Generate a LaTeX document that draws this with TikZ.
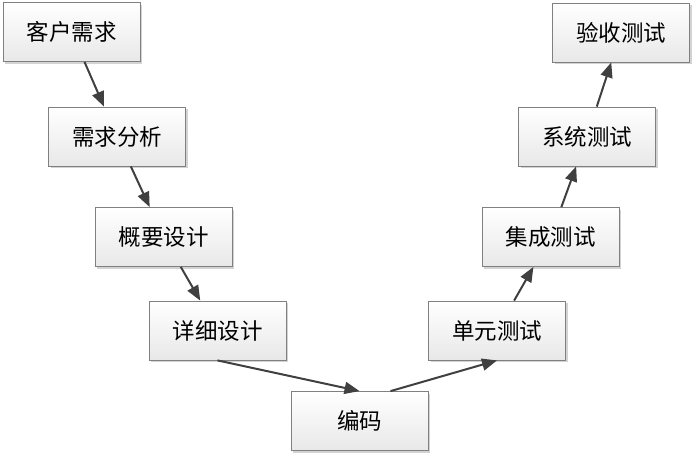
\documentclass[tikz,border=0pt]{standalone}
\usepackage{fontspec}
\newfontfamily\cjk{Noto Sans CJK SC}
\usetikzlibrary{arrows.meta,shadows}
\definecolor{arrowgray}{HTML}{404040}
\definecolor{boxline}{HTML}{808080}

\begin{document}
\begin{tikzpicture}[x=1pt, y=-1pt,
    stage/.style={draw=boxline, line width=0.8pt, minimum width=137pt, minimum height=59pt,
        top color=white, bottom color=gray!18, inner sep=0pt,
        drop shadow={shadow xshift=2pt, shadow yshift=-2pt, fill=gray, opacity=0.35},
        font=\cjk\fontsize{22.5}{22.5}\selectfont},
    flow/.style={draw=arrowgray, line width=2pt, -{Triangle[length=15pt, width=12pt]}}]
        \useasboundingbox (0,0) rectangle (698,458);
        % left side
        \node[stage](req) at (71.5,32) {客户需求};
        \node[stage](ana) at (117,136.5) {需求分析};
        \node[stage](hld) at (163.5,237) {概要设计};
        \node[stage](lld) at (217.5,330.5) {详细设计};
        % bottom
        \node[stage](code) at (359.5,421) {编码};
        % right side
        \node[stage](unit) at (497,330.5) {单元测试};
        \node[stage](integ) at (550.5,237) {集成测试};
        \node[stage](sys) at (587,136.5) {系统测试};
        \node[stage](acc) at (621,32.5) {验收测试};
        % arrows
        \path[flow](req)--(ana);
        \path[flow](ana)--(hld);
        \path[flow](hld)--(lld);
        \path[flow](lld.south)--(code.north);
        \path[flow]([xshift=31pt]code.north)--(unit.south);
        \path[flow](unit)--(integ);
        \path[flow](integ)--(sys);
        \path[flow](sys)--(acc);
\end{tikzpicture}
\end{document}
